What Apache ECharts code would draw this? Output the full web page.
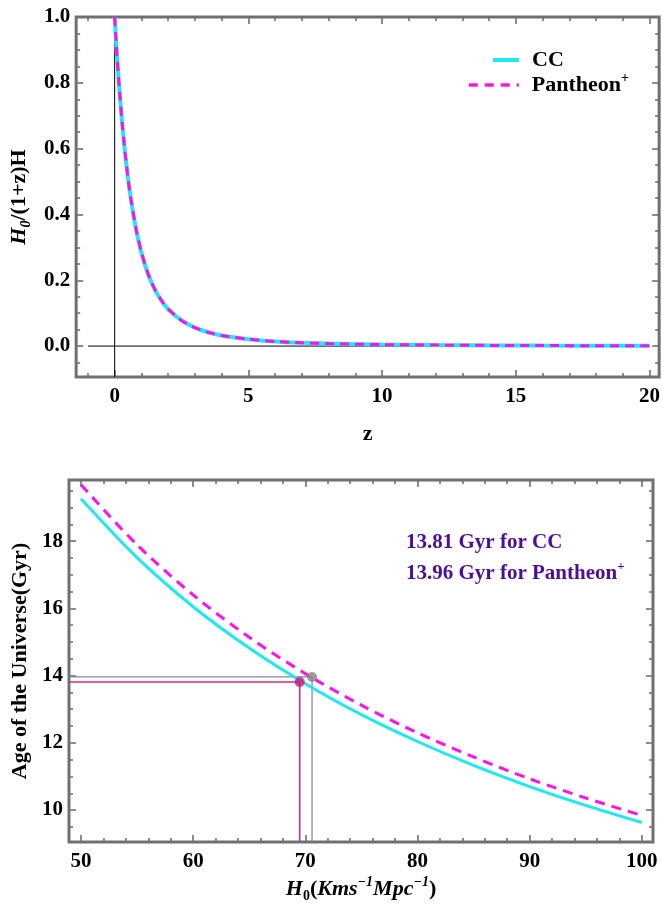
<!DOCTYPE html>
<html>
<head>
<meta charset="utf-8">
<script src="https://cdn.jsdelivr.net/npm/echarts@6/dist/echarts.min.js"></script>
<style>
  html, body { margin: 0; padding: 0; background: #fff; }
  #chart { width: 663px; height: 906px; }
</style>
</head>
<body>
<div id="chart"></div>
<script>
// ---- Upper panel: H0 / ((1+z) H) against redshift z ----
const zValues       = [0, 0.05, 0.1, 0.15, 0.2, 0.3, 0.4, 0.5, 0.6, 0.8, 1, 1.25, 1.5, 1.75, 2, 2.5, 3, 3.5, 4, 5, 6, 7, 8, 10, 12, 14, 16, 18, 20];
const ratioCC       = [1.0, 0.930, 0.867, 0.809, 0.755, 0.660, 0.579, 0.509, 0.450, 0.355, 0.284, 0.219, 0.172, 0.138, 0.112, 0.078, 0.056, 0.042, 0.032, 0.021, 0.014, 0.010, 0.0075, 0.0045, 0.0030, 0.0021, 0.0015, 0.0012, 0.0009];
const ratioPantheon = [1.0, 0.930, 0.867, 0.810, 0.756, 0.661, 0.580, 0.510, 0.451, 0.356, 0.285, 0.220, 0.173, 0.139, 0.113, 0.078, 0.056, 0.042, 0.032, 0.021, 0.014, 0.010, 0.0075, 0.0045, 0.0030, 0.0021, 0.0015, 0.0012, 0.0009];
const zTicks        = [0, 5, 10, 15, 20];
const ratioTicks    = [0, 0.2, 0.4, 0.6, 0.8, 1.0];

// ---- Lower panel: age of the universe against H0 ----
const h0Values     = [50, 55, 60, 65, 70, 75, 80, 85, 90, 95, 100];
const ageCC        = [19.26, 17.51, 16.05, 14.82, 13.76, 12.84, 12.04, 11.33, 10.70, 10.14, 9.63];
const agePantheon  = [19.68, 17.89, 16.40, 15.14, 14.06, 13.12, 12.30, 11.58, 10.93, 10.36, 9.84];
const h0Ticks      = [50, 60, 70, 80, 90, 100];
const ageTicks     = [10, 12, 14, 16, 18];

// Best-fit H0 and the corresponding age for each data set
const fitNames = ['CC', 'Pantheon'];
const fitH0    = [69.5, 70.6];
const fitAge   = [13.81, 13.96];

// ---- styling ----
const SERIF = "'Liberation Serif', 'Times New Roman', serif";
const FRAME = '#707070';
const CYAN = '#1fe8f0';
const MAGENTA = '#ff10f0';
const PINK = '#cf2a8c';
const GREY = '#858585';
const NOTE = '#4a0f9c';

const R0 = { x: [-1.44, 20.36], y: [-0.094, 1.0] };
const R1 = { x: [48.93, 101.0], y: [9.05, 19.82] };

function steps(from, to, step, skip) {
  const out = [];
  for (let v = from; v <= to + 1e-9; v += step) {
    const r = Math.round(v * 1000) / 1000;
    if (!skip.some(s => Math.abs(s - r) < 1e-9)) out.push(r);
  }
  return out;
}

const richBase = {
  b:   { fontFamily: SERIF, fontSize: 22, fontWeight: 'bold', color: '#000', lineHeight: 28 },
  i:   { fontFamily: SERIF, fontSize: 22, fontWeight: 'bold', fontStyle: 'italic', color: '#000', lineHeight: 28 },
  sub: { fontFamily: SERIF, fontSize: 14, fontWeight: 'bold', color: '#000', verticalAlign: 'bottom' },
  subi:{ fontFamily: SERIF, fontSize: 14, fontWeight: 'bold', fontStyle: 'italic', color: '#000', verticalAlign: 'bottom' },
  sup: { fontFamily: SERIF, fontSize: 14, fontWeight: 'bold', fontStyle: 'italic', color: '#000', verticalAlign: 'top' }
};

// Four axes per dimension: labelled major ticks, mirrored major ticks, and minor ticks on both sides
function frameAxes(dim, gridIndex, range, majors, minors, fmt, nameOpt) {
  const sides = dim === 'x' ? ['bottom', 'top'] : ['left', 'right'];
  const base = {
    type: 'value', gridIndex, min: range[0], max: range[1],
    axisLine: { show: false, onZero: false }, splitLine: { show: false }
  };
  const tick = (vals, len) => ({
    show: true, inside: true, length: len, customValues: vals,
    lineStyle: { color: FRAME, width: 1.6 }
  });
  return [
    Object.assign({}, base, nameOpt || {}, {
      position: sides[0],
      axisTick: tick(majors, 7),
      axisLabel: {
        show: true, customValues: majors, formatter: fmt,
        margin: dim === 'x' ? 9 : 6,
        color: '#000', fontFamily: SERIF, fontSize: 21, fontWeight: 'bold'
      }
    }),
    Object.assign({}, base, { position: sides[1], axisTick: tick(majors, 7), axisLabel: { show: false } }),
    Object.assign({}, base, { position: sides[0], axisTick: tick(minors, 4), axisLabel: { show: false } }),
    Object.assign({}, base, { position: sides[1], axisTick: tick(minors, 4), axisLabel: { show: false } })
  ];
}

const xAxes = [].concat(
  frameAxes('x', 0, R0.x, zTicks, steps(-1, 20, 1, zTicks), v => String(v), {
    name: 'z', nameLocation: 'middle', nameGap: 46,
    nameTextStyle: { fontFamily: SERIF, fontSize: 22, fontWeight: 'bold', color: '#000' }
  }),
  frameAxes('x', 1, R1.x, h0Ticks, steps(50, 100, 2, h0Ticks), v => String(v), {
    name: '{i|H}{sub|0}{b|(}{i|Kms}{sup|−1}{i|Mpc}{sup|−1}{b|)}',
    nameLocation: 'middle', nameGap: 33,
    nameTextStyle: { rich: richBase }
  })
);
const yAxes = [].concat(
  frameAxes('y', 0, R0.y, ratioTicks, steps(-0.05, 1.0, 0.05, ratioTicks), v => v.toFixed(1), {
    name: '{i|H}{subi|0}{b|/(1+z)H}', nameLocation: 'middle', nameRotate: 90, nameGap: 41,
    nameTextStyle: { rich: richBase }
  }),
  frameAxes('y', 1, R1.y, ageTicks, steps(9.5, 19.5, 0.5, ageTicks), v => String(v), {
    name: 'Age of the Universe(Gyr)', nameLocation: 'middle', nameRotate: 90, nameGap: 33,
    nameTextStyle: { fontFamily: SERIF, fontSize: 22, fontWeight: 'bold', color: '#000' }
  })
);

const zip = (xs, ys) => xs.map((x, k) => [x, ys[k]]);

const series = [
  // coordinate axes through the origin of the upper panel
  { type: 'line', xAxisIndex: 0, yAxisIndex: 0, silent: true, symbol: 'none', z: 1,
    data: [[0, R0.y[0]], [0, R0.y[1]]], lineStyle: { color: '#000', width: 1 } },
  { type: 'line', xAxisIndex: 0, yAxisIndex: 0, silent: true, symbol: 'none', z: 1,
    data: [[-1, 0], [zTicks[zTicks.length - 1], 0]], lineStyle: { color: '#000', width: 1 } },

  { name: 'CC', type: 'line', xAxisIndex: 0, yAxisIndex: 0, symbol: 'none', smooth: 0.25, z: 3,
    data: zip(zValues, ratioCC), lineStyle: { color: CYAN, width: 4 }, itemStyle: { color: CYAN } },
  { name: 'Pantheon+', type: 'line', xAxisIndex: 0, yAxisIndex: 0, symbol: 'none', smooth: 0.25, z: 4,
    data: zip(zValues, ratioPantheon), lineStyle: { color: MAGENTA, width: 3, type: [9, 6] }, itemStyle: { color: MAGENTA } },

  { name: 'CC', type: 'line', xAxisIndex: 4, yAxisIndex: 4, symbol: 'none', smooth: 0.3, z: 3,
    data: zip(h0Values, ageCC), lineStyle: { color: CYAN, width: 3 }, itemStyle: { color: CYAN } },
  { name: 'Pantheon+', type: 'line', xAxisIndex: 4, yAxisIndex: 4, symbol: 'none', smooth: 0.3, z: 4,
    data: zip(h0Values, agePantheon), lineStyle: { color: MAGENTA, width: 3, type: [10, 7] }, itemStyle: { color: MAGENTA } }
];

// drop lines from each best-fit point to the frame, then the point itself
const fitColors = [PINK, GREY];
fitH0.forEach((h, k) => {
  series.push({
    type: 'line', xAxisIndex: 4, yAxisIndex: 4, silent: true, symbol: 'none', z: 2,
    data: [[R1.x[0], fitAge[k]], [h, fitAge[k]], [h, R1.y[0]]],
    lineStyle: { color: fitColors[k], width: k === 0 ? 1.6 : 1.2 }
  });
});
fitH0.forEach((h, k) => {
  series.push({
    type: 'scatter', xAxisIndex: 4, yAxisIndex: 4, silent: true, symbolSize: 10, z: 5,
    data: [[h, fitAge[k]]], itemStyle: { color: k === 0 ? '#c8157f' : GREY }
  });
});

const noteRich = {
  n:   { fontFamily: SERIF, fontSize: 21, fontWeight: 'bold', fill: NOTE, lineHeight: 28 },
  sup: { fontFamily: SERIF, fontSize: 13, fontWeight: 'bold', fill: NOTE, verticalAlign: 'top' }
};
const noteText = [
  '{n|' + fitAge[0].toFixed(2) + ' Gyr for ' + fitNames[0] + '}',
  '{n|' + fitAge[1].toFixed(2) + ' Gyr for ' + fitNames[1] + '}{sup|+}'
];

const legendCommon = {
  orient: 'vertical', padding: 0, itemHeight: 14,
  itemStyle: { color: 'rgba(0,0,0,0)', borderWidth: 0 },
  textStyle: {
    fontFamily: SERIF, fontSize: 22, fontWeight: 'bold', color: '#000', lineHeight: 28,
    padding: [0, 0, 0, 8],
    rich: { sup: { fontFamily: SERIF, fontSize: 14, fontWeight: 'bold', color: '#000', verticalAlign: 'top' } }
  },
  formatter: n => n === 'Pantheon+' ? 'Pantheon{sup|+}' : n,
  selectedMode: false
};

const option = {
  animation: false,
  backgroundColor: '#fff',
  grid: [
    { left: 76, top: 17, width: 584, height: 360, show: true, borderColor: FRAME, borderWidth: 3, backgroundColor: 'transparent' },
    { left: 69, top: 480, width: 584, height: 362, show: true, borderColor: FRAME, borderWidth: 3, backgroundColor: 'transparent' }
  ],
  xAxis: xAxes,
  yAxis: yAxes,
  legend: [
    Object.assign({}, legendCommon, { data: ['CC'], left: 491, top: 46, itemWidth: 26,
      lineStyle: { width: 4, color: CYAN } }),
    Object.assign({}, legendCommon, { data: ['Pantheon+'], left: 467, top: 71, itemWidth: 50,
      lineStyle: { width: 3.5, color: MAGENTA, type: [9, 7] } })
  ],
  graphic: [
    { type: 'text', x: 406, y: 543, silent: true,
      style: { text: noteText[0], rich: noteRich, textVerticalAlign: 'middle' } },
    { type: 'text', x: 406, y: 574, silent: true,
      style: { text: noteText[1], rich: noteRich, textVerticalAlign: 'middle' } }
  ],
  series
};

const chart = echarts.init(document.getElementById('chart'), null, { renderer: 'canvas' });
chart.setOption(option);
</script>
</body>
</html>
